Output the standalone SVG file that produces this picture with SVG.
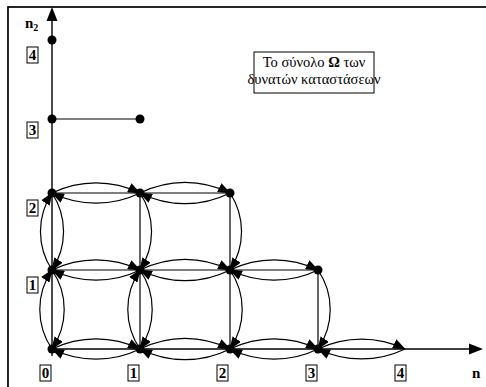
<svg xmlns="http://www.w3.org/2000/svg" width="486" height="387" viewBox="0 0 486 387">
  <style>
    .frame { fill: none; stroke: #000; stroke-width: 1.7; }
    .axis { fill: none; stroke: #000; stroke-width: 1.4; }
    .grid { fill: none; stroke: #000; stroke-width: 1.2; }
    .arc { fill: none; stroke: #000; stroke-width: 1.2; marker-end: url(#head); }
    .dot { fill: #000; }
    .tick rect { fill: #fff; stroke: #000; stroke-width: 1; }
    .tick text { font-family: "Liberation Serif", "DejaVu Serif", "Times New Roman", serif; font-weight: bold; font-size: 15px; text-anchor: middle; fill: #000; }
    .axlabel { font-family: "Liberation Serif", "DejaVu Serif", "Times New Roman", serif; font-weight: bold; fill: #000; }
    .note { font-family: "Liberation Serif", "DejaVu Serif", "Times New Roman", serif; font-size: 14.5px; text-anchor: middle; fill: #000; }
  </style>
  <defs>
    <marker id="head" viewBox="0 0 13 10" refX="12" refY="5" markerWidth="13" markerHeight="10" markerUnits="userSpaceOnUse" orient="auto">
      <path d="M0,0 L13,5 L0,10 z" fill="#000"/>
    </marker>
  </defs>

  <rect width="486" height="387" fill="#fff"/>
  <!-- outer frame -->
  <rect class="frame" x="8" y="7" width="500" height="400"/>

  <!-- axes -->
  <g id="axes">
    <line class="axis" x1="52" y1="356" x2="52" y2="18"/>
    <path d="M46.5,21 L52,7 L57.5,21 z" fill="#000"/>
    <line class="axis" x1="52" y1="349" x2="472" y2="349"/>
    <path d="M469,343.5 L483,349 L469,354.5 z" fill="#000"/>
    <text class="axlabel" x="25" y="28" font-size="15">n<tspan font-size="10" dy="3">2</tspan></text>
    <text class="axlabel" x="472" y="378" font-size="15">n</text>
  </g>

  <!-- state lattice lines -->
  <g id="grid">
    <line class="grid" x1="52" y1="119" x2="140" y2="119"/>
    <line class="grid" x1="52" y1="193" x2="230" y2="193"/>
    <line class="grid" x1="52" y1="270" x2="318" y2="270"/>
    <line class="grid" x1="140" y1="193" x2="140" y2="349"/>
    <line class="grid" x1="230" y1="193" x2="230" y2="349"/>
    <line class="grid" x1="318" y1="270" x2="318" y2="349"/>
  </g>

  <!-- transitions: every arc sweeps clockwise, so it bulges to the left of its direction -->
  <g id="connectors">
    <!-- row n2=0 -->
    <path class="arc" d="M52,349 A100,100 0 0 1 140,349"/>
    <path class="arc" d="M140,349 A100,100 0 0 1 52,349"/>
    <path class="arc" d="M140,349 A100,100 0 0 1 230,349"/>
    <path class="arc" d="M230,349 A100,100 0 0 1 140,349"/>
    <path class="arc" d="M230,349 A100,100 0 0 1 318,349"/>
    <path class="arc" d="M318,349 A100,100 0 0 1 230,349"/>
    <path class="arc" d="M318,349 A100,100 0 0 1 405,349"/>
    <path class="arc" d="M405,349 A100,100 0 0 1 318,349"/>
    <!-- row n2=1 -->
    <path class="arc" d="M52,270 A100,100 0 0 1 140,270"/>
    <path class="arc" d="M140,270 A100,100 0 0 1 52,270"/>
    <path class="arc" d="M140,270 A100,100 0 0 1 230,270"/>
    <path class="arc" d="M230,270 A100,100 0 0 1 140,270"/>
    <path class="arc" d="M230,270 A100,100 0 0 1 318,270"/>
    <path class="arc" d="M318,270 A100,100 0 0 1 230,270"/>
    <!-- row n2=2 -->
    <path class="arc" d="M52,193 A100,100 0 0 1 140,193"/>
    <path class="arc" d="M140,193 A100,100 0 0 1 52,193"/>
    <path class="arc" d="M140,193 A100,100 0 0 1 230,193"/>
    <path class="arc" d="M230,193 A100,100 0 0 1 140,193"/>
    <!-- column n1=0 -->
    <path class="arc" d="M52,349 A70,70 0 0 1 52,270"/>
    <path class="arc" d="M52,270 A70,70 0 0 1 52,349"/>
    <path class="arc" d="M52,270 A70,70 0 0 1 52,193"/>
    <path class="arc" d="M52,193 A70,70 0 0 1 52,270"/>
    <!-- column n1=1 -->
    <path class="arc" d="M140,349 A70,70 0 0 1 140,270"/>
    <path class="arc" d="M140,270 A70,70 0 0 1 140,349"/>
    <path class="arc" d="M140,193 A70,70 0 0 1 140,270"/>
    <!-- column n1=2 -->
    <path class="arc" d="M230,270 A70,70 0 0 1 230,349"/>
    <path class="arc" d="M230,193 A70,70 0 0 1 230,270"/>
    <!-- column n1=3 -->
    <path class="arc" d="M318,270 A70,70 0 0 1 318,349"/>
  </g>

  <!-- states -->
  <g id="s0-0"><circle class="dot" cx="52" cy="349" r="4.5"/></g>
  <g id="s1-0"><circle class="dot" cx="140" cy="349" r="4.5"/></g>
  <g id="s2-0"><circle class="dot" cx="230" cy="349" r="4.5"/></g>
  <g id="s3-0"><circle class="dot" cx="318" cy="349" r="4.5"/></g>
  <g id="s0-1"><circle class="dot" cx="52" cy="270" r="4.5"/></g>
  <g id="s1-1"><circle class="dot" cx="140" cy="270" r="4.5"/></g>
  <g id="s2-1"><circle class="dot" cx="230" cy="270" r="4.5"/></g>
  <g id="s3-1"><circle class="dot" cx="318" cy="270" r="4.5"/></g>
  <g id="s0-2"><circle class="dot" cx="52" cy="193" r="4.5"/></g>
  <g id="s1-2"><circle class="dot" cx="140" cy="193" r="4.5"/></g>
  <g id="s2-2"><circle class="dot" cx="230" cy="193" r="4.5"/></g>
  <g id="s0-3"><circle class="dot" cx="52" cy="119" r="4.5"/></g>
  <g id="s1-3"><circle class="dot" cx="140" cy="119" r="4.5"/></g>
  <g id="s0-4"><circle class="dot" cx="52" cy="40" r="4.5"/></g>

  <!-- n2 tick labels -->
  <g id="tick-y4" class="tick"><rect x="27" y="47" width="11" height="16"/><text x="32.5" y="60">4</text></g>
  <g id="tick-y3" class="tick"><rect x="27" y="122" width="11" height="16"/><text x="32.5" y="135">3</text></g>
  <g id="tick-y2" class="tick"><rect x="27" y="200" width="11" height="16"/><text x="32.5" y="213">2</text></g>
  <g id="tick-y1" class="tick"><rect x="27" y="277" width="11" height="16"/><text x="32.5" y="290">1</text></g>
  <!-- n1 tick labels -->
  <g id="tick-x0" class="tick"><rect x="40" y="365" width="11" height="16"/><text x="45.5" y="378">0</text></g>
  <g id="tick-x1" class="tick"><rect x="128" y="365" width="11" height="16"/><text x="133.5" y="378">1</text></g>
  <g id="tick-x2" class="tick"><rect x="217" y="365" width="11" height="16"/><text x="222.5" y="378">2</text></g>
  <g id="tick-x3" class="tick"><rect x="306" y="365" width="11" height="16"/><text x="311.5" y="378">3</text></g>
  <g id="tick-x4" class="tick"><rect x="395" y="365" width="11" height="16"/><text x="400.5" y="378">4</text></g>

  <!-- caption box -->
  <g id="caption">
    <rect x="254" y="52" width="120" height="41" fill="#fff" stroke="#000" stroke-width="1"/>
    <text class="note" x="314" y="67">Το σύνολο <tspan font-weight="bold">Ω</tspan> των</text>
    <text class="note" x="314" y="84">δυνατών καταστάσεων</text>
  </g>
</svg>
